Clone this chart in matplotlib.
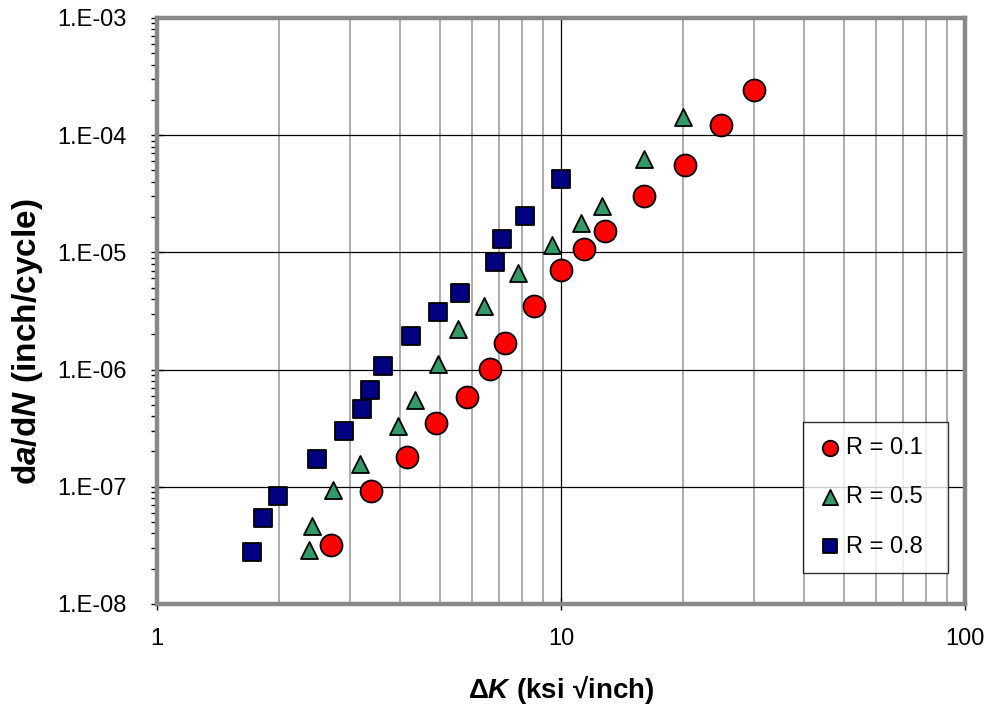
import numpy as np
import matplotlib.pyplot as plt
from matplotlib.ticker import LogLocator, FuncFormatter, NullFormatter

plt.rcParams['font.family'] = ['Liberation Sans', 'DejaVu Sans']
plt.rcParams['mathtext.fontset'] = 'custom'
plt.rcParams['mathtext.rm'] = 'Liberation Sans:bold'
plt.rcParams['mathtext.it'] = 'Liberation Sans:bold:italic'
plt.rcParams['mathtext.bf'] = 'Liberation Sans:bold'

# crack growth rate vs stress intensity range, three load ratios
dk_r01 = [2.70, 3.39, 4.16, 4.90, 5.85, 6.67, 7.27, 8.58, 10.0, 11.4, 12.85, 16.0, 20.3, 24.8, 30.0]
dadn_r01 = [3.2e-8, 9.2e-8, 1.8e-7, 3.5e-7, 5.8e-7, 1.01e-6, 1.69e-6, 3.5e-6, 7.1e-6, 1.07e-5,
            1.52e-5, 3.0e-5, 5.6e-5, 1.22e-4, 2.43e-4]

dk_r05 = [2.37, 2.42, 2.73, 3.18, 3.95, 4.35, 4.96, 5.56, 6.45, 7.83, 9.5, 11.2, 12.6, 16.05, 20.0]
dadn_r05 = [2.9e-8, 4.6e-8, 9.4e-8, 1.57e-7, 3.3e-7, 5.5e-7, 1.12e-6, 2.2e-6, 3.5e-6, 6.7e-6,
            1.16e-5, 1.78e-5, 2.5e-5, 6.3e-5, 1.43e-4]

dk_r08 = [1.72, 1.83, 1.99, 2.49, 2.90, 3.22, 3.37, 3.63, 4.25, 4.96, 5.62, 6.87, 7.14, 8.15, 10.0]
dadn_r08 = [2.8e-8, 5.4e-8, 8.4e-8, 1.73e-7, 3.0e-7, 4.6e-7, 6.7e-7, 1.07e-6, 1.94e-6, 3.1e-6,
            4.5e-6, 8.3e-6, 1.3e-5, 2.05e-5, 4.2e-5]

fig = plt.figure(figsize=(9.95, 7.05), dpi=100)
ax = fig.add_axes([0.158, 0.1433, 0.812, 0.8312])

ax.set_xscale('log')
ax.set_yscale('log')
ax.set_xlim(1, 100)
ax.set_ylim(1e-8, 1e-3)

# gridlines: grey minor verticals, black decades
ax.xaxis.set_minor_locator(LogLocator(base=10, subs=np.arange(2, 10)))
ax.yaxis.set_minor_locator(LogLocator(base=10, subs=np.arange(2, 10)))
ax.grid(which='minor', axis='x', color='#a6a6a6', lw=1.3)
ax.grid(which='major', axis='both', color='black', lw=0.9)
ax.set_axisbelow(True)

ax.scatter(dk_r01, dadn_r01, s=250, marker='o', facecolor='#ff0000', edgecolor='black',
           lw=1.3, label='R = 0.1', zorder=3)
ax.scatter(dk_r05, dadn_r05, s=150, marker='^', facecolor='#339966', edgecolor='black',
           lw=1.3, label='R = 0.5', zorder=3)
ax.scatter(dk_r08, dadn_r08, s=150, marker='s', facecolor='#000080', edgecolor='black',
           lw=1.3, label='R = 0.8', zorder=3)

for sp in ax.spines.values():
    sp.set_color('#888888')
    sp.set_linewidth(3.2)

ax.yaxis.set_major_formatter(FuncFormatter(lambda v, p: '1.E-%02d' % round(-np.log10(v))))
ax.yaxis.set_minor_formatter(NullFormatter())
ax.xaxis.set_major_formatter(FuncFormatter(lambda v, p: '%d' % round(v)))
ax.xaxis.set_minor_formatter(NullFormatter())
ax.tick_params(axis='both', which='major', direction='inout', length=8, width=1,
               color='black', labelsize=17)
ax.tick_params(axis='y', which='major', pad=18)
ax.tick_params(axis='x', which='major', pad=13)
ax.tick_params(axis='y', which='minor', direction='out', length=4, width=1, color='black')
ax.tick_params(axis='x', which='minor', length=0)

ax.set_xlabel('$\\Delta K\\ \\mathrm{(ksi\\ \u221ainch)}$', fontsize=20, labelpad=17)
ax.set_ylabel(r'$\mathrm{d}a\mathrm{/d}N\ \mathrm{(inch/cycle)}$', fontsize=24, labelpad=9)
ax.yaxis.label.set_y(0.447)

leg = ax.legend(loc='upper left', bbox_to_anchor=(0.7995, 0.3106, 0.1795, 0.0), mode='expand',
                fontsize=17, frameon=True, fancybox=False, borderpad=0.65, labelspacing=1.15,
                handletextpad=0.15, handlelength=1.0, borderaxespad=0)
leg.get_frame().set_edgecolor('black')
leg.get_frame().set_linewidth(1)
for h, sz in zip(leg.legend_handles, [125, 120, 105]):
    h.set_sizes([sz])

fig.savefig('out.png', dpi=100)
